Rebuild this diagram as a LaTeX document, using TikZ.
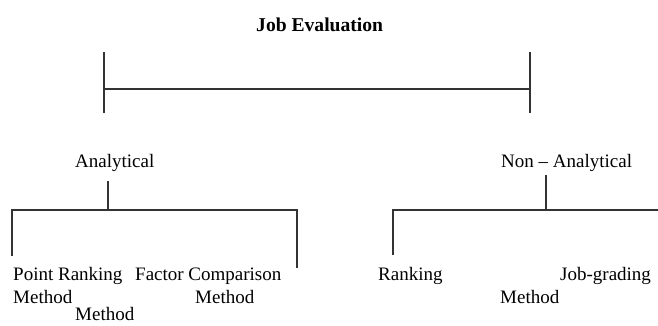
\documentclass[tikz,border=0pt]{standalone}
\usepackage{fontspec}
\setmainfont{Liberation Serif}
\begin{document}
\begin{tikzpicture}[x=1pt,y=-1pt,
  lbl/.style={anchor=base west,inner sep=0pt,font=\fontsize{19}{22}\selectfont},
  ttl/.style={anchor=base west,inner sep=0pt,font=\fontsize{19.6}{22}\selectfont\bfseries},
  ln/.style={line width=1.1pt,draw=black!80}]
\useasboundingbox (0,0) rectangle (658,325);
% title
\node[ttl] (title) at (256,31) {Job Evaluation};
% top bracket
\coordinate (tl) at (104,89);
\coordinate (tr) at (530,89);
\coordinate (tlt) at (104,52);
\coordinate (tlb) at (104,113);
\coordinate (trt) at (530,52);
\coordinate (trb) at (530,113);
\draw[ln] (tlt) -- (tlb);
\draw[ln] (trt) -- (trb);
\draw[ln] (tl) -- (tr);
% second level
\node[lbl] (ana) at (75,167) {Analytical};
\node[lbl] (nonana) at (501,167) {Non -- Analytical};
% left sub-bracket
\coordinate (as) at (108,181);
\coordinate (aj) at (108,210);
\coordinate (al) at (12,210);
\coordinate (ar) at (297,210);
\coordinate (alb) at (12,256);
\coordinate (arb) at (297,268);
\draw[ln] (as) -- (aj);
\draw[ln] (alb) -- (al) -- (ar) -- (arb);
% right sub-bracket
\coordinate (ns) at (546,175);
\coordinate (nj) at (546,210);
\coordinate (nl) at (393,210);
\coordinate (nr) at (658,210);
\coordinate (nlb) at (393,255);
\draw[ln] (ns) -- (nj);
\draw[ln] (nlb) -- (nl) -- (nr);
% leaves
\node[lbl] (pr) at (13,280) {Point Ranking};
\node[lbl] (prm1) at (13,303) {Method};
\node[lbl] (prm2) at (75,320) {Method};
\node[lbl] (fc) at (135,280) {Factor Comparison};
\node[lbl] (fcm) at (195,303) {Method};
\node[lbl] (rk) at (378,280) {Ranking};
\node[lbl] (jg) at (560,280) {Job-grading};
\node[lbl] (jgm) at (500,303) {Method};
\end{tikzpicture}
\end{document}
